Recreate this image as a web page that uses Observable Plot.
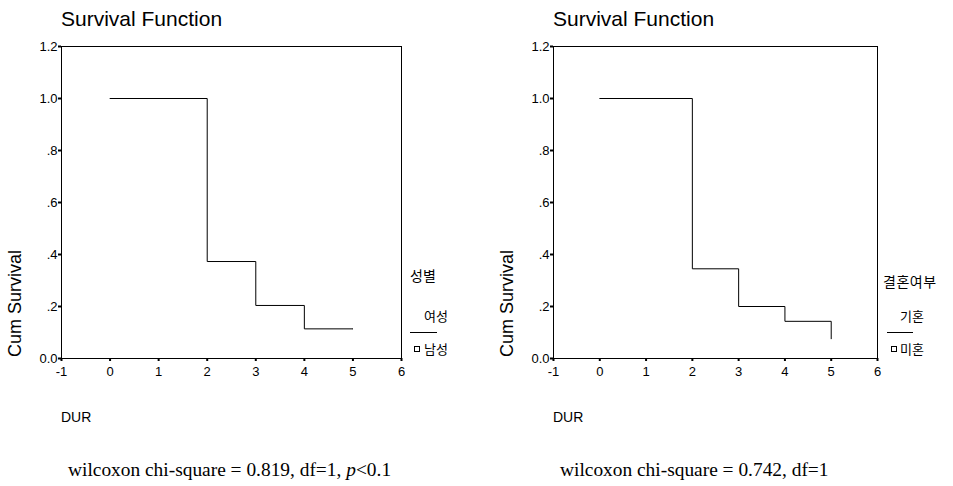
<!DOCTYPE html>
<html>
<head>
<meta charset="utf-8">
<script src="https://cdn.jsdelivr.net/npm/d3@7"></script>
<script src="https://cdn.jsdelivr.net/npm/@observablehq/plot@0.6"></script>
<style>
  html, body { margin: 0; padding: 0; background: #fff; }
  #wrap { position: relative; width: 953px; height: 486px; overflow: hidden; font-family: "Liberation Sans", Arial, sans-serif; color: #000; }
  .abs { position: absolute; white-space: nowrap; line-height: 1; }
  .title { font-size: 21px; }
  .ylab { font-size: 18px; transform-origin: left top; transform: rotate(-90deg); }
  .xlab { font-size: 14px; }
  .leg { font-family: "Noto Sans CJK KR", sans-serif; font-size: 13px; }
  .legt { font-family: "Noto Sans CJK KR", sans-serif; font-size: 14px; }
  .cap { font-family: "Liberation Serif", "Times New Roman", serif; font-size: 19.4px; }
  .legline { position: absolute; height: 0; border-top: 1px solid #000; }
  .legsq { position: absolute; width: 4px; height: 4px; border: 1px solid #000; }
  svg { position: absolute; top: 0; }
</style>
</head>
<body>
<div id="wrap"></div>
<script>
// ---- data ----
const durTimes = [0, 2, 3, 4, 5];
const survSex = [1.0, 0.373, 0.204, 0.114, 0.114];       // 성별 (여성)
const survMarital = [1.0, 0.345, 0.200, 0.143, 0.076];   // 결혼여부 (기혼)
const xTicks = [-1, 0, 1, 2, 3, 4, 5, 6];
const yTicks = [0, 0.2, 0.4, 0.6, 0.8, 1.0, 1.2];
const yTickLabels = ["0.0", ".2", ".4", ".6", ".8", "1.0", "1.2"];
const titleText = "Survival Function";
const yLabelText = "Cum Survival";
const xLabelText = "DUR";
const legendTitles = ["성별", "결혼여부"];
const legendSeries1 = ["여성", "기혼"];
const legendSeries2 = ["남성", "미혼"];
const captions = ["wilcoxon chi-square = 0.819, df=1, <i>p</i>&lt;0.1", "wilcoxon chi-square = 0.742, df=1"];

const wrap = document.getElementById("wrap");

function makePlot(values, width, mLeft, mRight) {
  const data = durTimes.map((t, i) => ({t, s: values[i]}));
  return Plot.plot({
    width, height: 420,
    marginLeft: mLeft, marginRight: mRight, marginTop: 46, marginBottom: 62,
    style: {fontFamily: "Liberation Sans, Arial, sans-serif", fontSize: "13px", color: "#000", background: "transparent"},
    x: {domain: [-1, 6], ticks: xTicks, label: null},
    y: {domain: [0, 1.2], ticks: yTicks, label: null},
    marks: [
      Plot.frame({stroke: "#000", strokeWidth: 1}),
      Plot.axisX({ticks: xTicks, tickSize: 3, strokeWidth: 2, tickPadding: 5, tickFormat: d => String(d).replace("−", "-"), label: null}),
      Plot.axisY({ticks: yTicks, tickSize: 3, strokeWidth: 2, tickPadding: 1, tickFormat: d => yTickLabels[yTicks.indexOf(d)], label: null}),
      Plot.line(data, {x: "t", y: "s", curve: "step-after", stroke: "#000", strokeWidth: 1})
    ]
  });
}

function addText(cls, text, left, top, html) {
  const d = document.createElement("div");
  d.className = "abs " + cls;
  if (html) d.innerHTML = text; else d.textContent = text;
  d.style.left = left + "px";
  d.style.top = top + "px";
  wrap.appendChild(d);
  return d;
}

const panels = [
  {svgLeft: 0, width: 476, mL: 61, mR: 75, vals: survSex,
   legTitle: [410, 268, 0], s1: [424, 309], line: [410, 332, 27], sq: [414, 346], s2: [424, 342]},
  {svgLeft: 476, width: 477, mL: 77, mR: 76, vals: survMarital,
   legTitle: [883, 274, 0.5], s1: [900, 309], line: [887, 332, 26], sq: [891, 346], s2: [900, 342]}
];

panels.forEach((p, i) => {
  const svg = makePlot(p.vals, p.width, p.mL, p.mR);
  svg.style.left = p.svgLeft + "px";
  wrap.appendChild(svg);
  const fx = p.svgLeft + p.mL;
  addText("title", titleText, fx, 8);
  addText("ylab", yLabelText, fx - 55, 357);
  addText("xlab", xLabelText, fx, 410);
  const lt = addText("legt", legendTitles[i], p.legTitle[0], p.legTitle[1]);
  lt.style.letterSpacing = p.legTitle[2] + "px";
  addText("leg", legendSeries1[i], p.s1[0], p.s1[1]);
  const ln = document.createElement("div");
  ln.className = "legline";
  ln.style.left = p.line[0] + "px"; ln.style.top = p.line[1] + "px"; ln.style.width = p.line[2] + "px";
  wrap.appendChild(ln);
  const sq = document.createElement("div");
  sq.className = "legsq";
  sq.style.left = p.sq[0] + "px"; sq.style.top = p.sq[1] + "px";
  wrap.appendChild(sq);
  addText("leg", legendSeries2[i], p.s2[0], p.s2[1]);
});

addText("cap", captions[0], 68, 460, true);
addText("cap", captions[1], 560, 460, true);
</script>
</body>
</html>
